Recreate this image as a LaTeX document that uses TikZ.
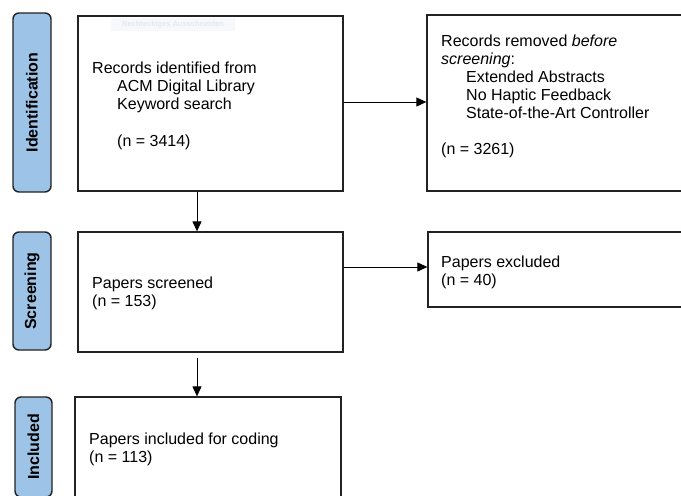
\documentclass[tikz,border=0pt]{standalone}
\usepackage{fontspec}
\setmainfont{Liberation Sans}
\usetikzlibrary{arrows.meta}
\definecolor{phase}{HTML}{9DC3E6}
\definecolor{edge}{HTML}{222222}
\definecolor{ghostbg}{HTML}{F6F8FC}
\definecolor{ghosttx}{HTML}{E4E9F2}
\begin{document}
\begin{tikzpicture}[x=1pt,y=-1pt,
  phasebox/.style={draw=edge,line width=1.4pt,fill=phase,rounded corners=6pt,inner sep=0pt},
  flowbox/.style={draw=edge,line width=1.3pt,fill=white,inner sep=0pt},
  phaselabel/.style={rotate=90,font=\fontsize{16}{18}\selectfont\bfseries,inner sep=0pt},
  txt/.style={anchor=base west,font=\fontsize{16}{18}\selectfont,inner sep=0pt},
  arr/.style={draw=black,line width=1pt,-{Triangle[length=10pt,width=9pt]}}]
\useasboundingbox (0,0) rectangle (681,496);
\clip (0,0) rectangle (681,496);
\fill[white] (0,0) rectangle (681,496);
% phase labels
\node[phasebox,minimum width=38pt,minimum height=179pt] (pid) at (32,102.5) {};
\node[phaselabel] (lid) at (pid.center) {Identification};
\node[phasebox,minimum width=38pt,minimum height=118pt] (psc) at (32,291) {};
\node[phaselabel] (lsc) at (psc.center) {Screening};
\node[phasebox,minimum width=37pt,minimum height=100pt] (pin) at (33.5,447) {};
\node[phaselabel] (lin) at (pin.center) {Included};
% flow boxes
\node[flowbox,minimum width=265pt,minimum height=175pt] (b1) at (210.5,103.5) {};
\node[flowbox,minimum width=280pt,minimum height=176pt] (b2) at (567,103) {};
\node[flowbox,minimum width=265pt,minimum height=120pt] (b3) at (210.5,292) {};
\node[flowbox,minimum width=280pt,minimum height=75pt] (b4) at (568,269.5) {};
\node[flowbox,minimum width=266pt,minimum height=115pt] (b5) at (208,454.5) {};
% faint leftover tooltip
\node[fill=ghostbg,minimum width=124pt,minimum height=13pt,inner sep=0pt,
      text=ghosttx,font=\fontsize{7.5}{8}\selectfont\bfseries] (ghost) at (173,24.5) {Rechteckiges Ausschneiden};
% texts box 1
\node[txt] (t1a) at (92,73) {Records identified from};
\node[txt] (t1b) at (117,91) {ACM Digital Library};
\node[txt] (t1c) at (117,109) {Keyword search};
\node[txt] (t1d) at (117,146) {(n = 3414)};
% texts box 2
\node[txt] (t2a) at (441,46) {Records removed \textit{before}};
\node[txt] (t2b) at (441,64) {\textit{screening}:};
\node[txt] (t2c) at (466,82) {Extended Abstracts};
\node[txt] (t2d) at (466,100) {No Haptic Feedback};
\node[txt] (t2e) at (466,118) {State-of-the-Art Controller};
\node[txt] (t2f) at (441,154) {(n = 3261)};
% texts box 3
\node[txt] (t3a) at (92,288) {Papers screened};
\node[txt] (t3b) at (92,306) {(n = 153)};
% texts box 4
\node[txt] (t4a) at (441,267) {Papers excluded};
\node[txt] (t4b) at (441,285) {(n = 40)};
% texts box 5
\node[txt] (t5a) at (89,444) {Papers included for coding};
\node[txt] (t5b) at (89,462) {(n = 113)};
% connectors
\draw[arr] (b1.east |- 0,102) -- (b2.west |- 0,102);
\draw[arr] (b3.east |- 0,267) -- (b4.west |- 0,267);
\draw[arr] (b1.south -| 197,0) -- (b3.north -| 197,0);
\draw[arr,shorten <=5pt] (b3.south -| 197,0) -- (b5.north -| 197,0);
\end{tikzpicture}
\end{document}
